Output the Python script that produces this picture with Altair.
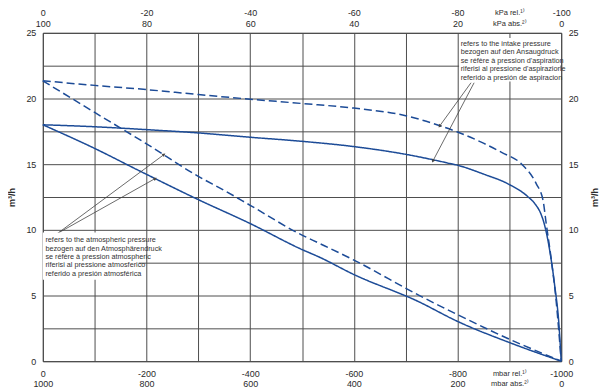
import altair as alt
import pandas as pd

# ---- data (x: mbar rel., y: m³/h) ----
solid_intake_x = [0, -100, -200, -300, -400, -500, -600, -700, -780, -800, -850, -900, -935, -950, -960, -967, -978, -987, -996, -1000]
solid_intake_y = [18.0, 17.85, 17.63, 17.38, 17.05, 16.74, 16.34, 15.75, 15.1, 14.92, 14.25, 13.45, 12.55, 11.95, 11.3, 10.5, 8.4, 5.9, 2.6, 0.0]
dashed_intake_x = [0, -100, -200, -300, -400, -500, -600, -700, -766, -800, -850, -885, -923, -952, -965, -971, -981, -990, -1000]
dashed_intake_y = [21.35, 21.0, 20.68, 20.3, 19.95, 19.62, 19.27, 18.69, 17.93, 17.45, 16.6, 15.9, 15.03, 13.5, 12.25, 10.5, 7.7, 4.7, 0.0]
solid_atm_x = [0, -100, -186, -300, -400, -500, -532, -600, -724, -800, -902, -1000]
solid_atm_y = [18.0, 16.2, 14.5, 12.3, 10.48, 8.5, 7.95, 6.6, 4.55, 3.03, 1.39, 0.0]
dashed_atm_x = [0, -100, -200, -300, -350, -400, -500, -532, -600, -724, -800, -902, -1000]
dashed_atm_y = [21.35, 18.94, 16.55, 14.07, 13.0, 11.87, 9.6, 9.0, 7.7, 5.05, 3.54, 1.64, 0.0]

grid_x = [0, -100, -200, -300, -400, -500, -600, -700, -800, -900, -1000]
grid_y = [0, 2.5, 5, 7.5, 10, 12.5, 15, 17.5, 20, 22.5, 25]

top_note = ["refers to the intake pressure",
            "bezogen auf den Ansaugdruck",
            "se réfère à pression d'aspiration",
            "riferisi al pressione d'aspirazione",
            "referido a presión de aspiracion"]
bottom_note = ["refers to the atmospheric pressure",
               "bezogen auf den Atmosphärendruck",
               "se réfère à pression atmospheric",
               "riferisi al pressione atmosferico",
               "referido a presión atmosférica"]

# note boxes (data coords)
box_x1 = [-803, 0]
box_x2 = [-998, -185]
box_y1 = [24.6, 9.8]
box_y2 = [21.3, 6.2]

# leader lines (data coords) and arrow angles
lead_x1 = [-826, -832, -24, -27]
lead_y1 = [21.2, 21.2, 9.6, 9.7]
lead_x2 = [-766, -753, -233, -216]
lead_y2 = [17.93, 15.28, 15.71, 13.89]
lead_angle = [216, 208, 53, 60]

# ---- tables ----
rows = []
for name, style, xs, ys in [("intake_solid", "solid", solid_intake_x, solid_intake_y),
                            ("intake_dashed", "dashed", dashed_intake_x, dashed_intake_y),
                            ("atm_solid", "solid", solid_atm_x, solid_atm_y),
                            ("atm_dashed", "dashed", dashed_atm_x, dashed_atm_y)]:
    for i, (a, b) in enumerate(zip(xs, ys)):
        rows.append({"curve": name, "style": style, "mbar": a, "flow": b, "i": i})
curves = pd.DataFrame(rows)
boxes = pd.DataFrame({"x1": box_x1, "x2": box_x2, "y1": box_y1, "y2": box_y2})
leads = pd.DataFrame({"x1": lead_x1, "y1": lead_y1, "x2": lead_x2, "y2": lead_y2, "ang": lead_angle})

FONT = "Liberation Sans Narrow, Arial Narrow, Liberation Sans, Arial, sans-serif"
BLUE = "#1c4b97"
GRID = "#4d4d4d"
LBL = "#2a2a2a"

XS = alt.Scale(domain=[0, -1000], nice=False, zero=False)
YS = alt.Scale(domain=[0, 25], nice=False, zero=False)

unit_size = {"condition": {"test": "datum.value == -900", "value": 7.5}, "value": 9}

bottom_axis = alt.Axis(
    orient="bottom", values=grid_x, grid=True, gridColor=GRID, gridWidth=1,
    domain=False, ticks=False, tickSize=0, labelPadding=12, labelFlush=False,
    labelOverlap=False, title=None, labelFont=FONT, labelFontSize=unit_size,
    labelColor=LBL, labelLineHeight=10, labelBaseline="middle",
    labelExpr="datum.value == -900 ? ['mbar rel.\u00b9\u207e', 'mbar abs.\u00b2\u207e'] : "
              "(datum.value % 200 == 0 ? ['' + datum.value, '' + (1000 + datum.value)] : '')",
)
top_axis = alt.Axis(
    orient="top", values=grid_x, grid=False, domain=False, ticks=False, tickSize=0,
    labelPadding=20, labelFlush=False, labelOverlap=False, title=None,
    labelFont=FONT, labelFontSize=unit_size, labelColor=LBL, labelLineHeight=10.5,
    labelBaseline="middle",
    labelExpr="datum.value == -900 ? ['kPa rel.\u00b9\u207e', 'kPa abs.\u00b2\u207e'] : "
              "(datum.value % 200 == 0 ? ['' + (datum.value / 10), '' + (100 + datum.value / 10)] : '')",
)
left_axis = alt.Axis(
    orient="left", values=grid_y, grid=True, gridColor=GRID, gridWidth=1,
    domain=False, ticks=False, tickSize=0, labelPadding=7, labelFlush=False,
    labelOverlap=False, labelFont=FONT, labelFontSize=9, labelColor=LBL,
    labelExpr="datum.value % 5 == 0 ? datum.label : ''",
    title="m\u00b3/h", titleFont=FONT, titleFontSize=9, titleFontWeight="bold",
    titleColor=LBL, titleAngle=270, titleX=-31, titleY=165, titleAlign="center",
    titleBaseline="middle",
)
right_axis = alt.Axis(
    orient="right", values=grid_y, grid=False, domain=False, ticks=False, tickSize=0,
    labelPadding=7, labelFlush=False, labelOverlap=False, labelFont=FONT,
    labelFontSize=9, labelColor=LBL,
    labelExpr="datum.value % 5 == 0 ? datum.label : ''",
    title="m\u00b3/h", titleFont=FONT, titleFontSize=9, titleFontWeight="bold",
    titleColor=LBL, titleAngle=270, titleX=33, titleY=165, titleAlign="center",
    titleBaseline="middle",
)

lines = alt.Chart(curves).mark_line(color=BLUE, strokeWidth=1.5, interpolate="monotone").encode(
    x=alt.X("mbar:Q", scale=XS, axis=bottom_axis),
    y=alt.Y("flow:Q", scale=YS, axis=left_axis),
    detail="curve:N",
    order="i:Q",
    strokeDash=alt.StrokeDash("style:N", scale=alt.Scale(domain=["solid", "dashed"], range=[[1, 0], [8, 4]]), legend=None),
)

rules = alt.Chart(leads).mark_rule(color="#444", strokeWidth=0.8).encode(
    x=alt.X("x1:Q", scale=XS, axis=top_axis),
    y=alt.Y("y1:Q", scale=YS, axis=right_axis),
    x2="x2:Q",
    y2="y2:Q",
)

heads = alt.Chart(leads).mark_point(shape="triangle", filled=True, size=14, color="#444", opacity=1).encode(
    x=alt.X("x2:Q", scale=XS, axis=None),
    y=alt.Y("y2:Q", scale=YS, axis=None),
    angle=alt.Angle("ang:Q", scale=None),
)

rects = alt.Chart(boxes).mark_rect(color="white").encode(
    x=alt.X("x1:Q", scale=XS, axis=None), x2="x2:Q",
    y=alt.Y("y1:Q", scale=YS, axis=None), y2="y2:Q",
)

note_top = alt.Chart(pd.DataFrame({"x": [-806], "y": [24.48]})).mark_text(
    text=top_note, align="left", baseline="top", font=FONT, fontSize=7.3, lineHeight=8.6, color="#333"
).encode(x=alt.X("x:Q", scale=XS, axis=None), y=alt.Y("y:Q", scale=YS, axis=None))

note_bottom = alt.Chart(pd.DataFrame({"x": [-5], "y": [9.52]})).mark_text(
    text=bottom_note, align="left", baseline="top", font=FONT, fontSize=7.3, lineHeight=8.5, color="#333"
).encode(x=alt.X("x:Q", scale=XS, axis=None), y=alt.Y("y:Q", scale=YS, axis=None))

chart = alt.layer(lines, rules, rects, heads, note_top, note_bottom).resolve_axis(
    x="independent", y="independent"
).properties(
    width=521, height=330,
    autosize=alt.AutoSizeParams(type="none"),
    padding={"left": 35, "top": 24, "right": 38, "bottom": 29},
    background="white",
).configure_view(stroke="#333", strokeWidth=1)

chart.save("out.html", embed_options={"renderer": "svg", "actions": False})
